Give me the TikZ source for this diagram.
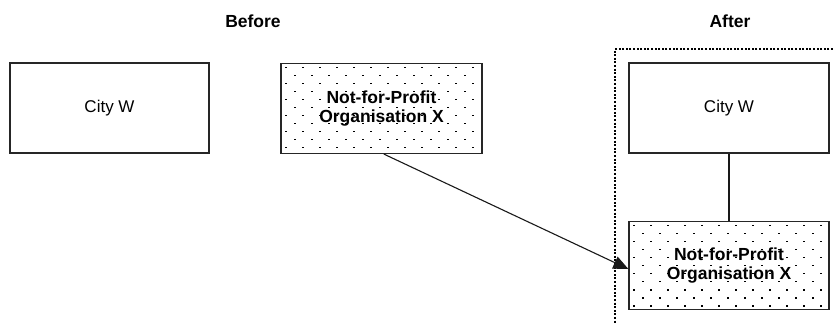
\documentclass[tikz,border=0pt]{standalone}
\usepackage{fontspec}
\setmainfont{Liberation Sans}
\usetikzlibrary{arrows.meta,calc,backgrounds}
\tikzset{
  box/.style={draw=black!85, line width=1.2pt, minimum width=200pt, minimum height=90pt, inner sep=0pt, align=center, font=\fontsize{17}{19}\selectfont},
  nfp/.style={box, font=\fontsize{17.5}{19.5}\selectfont\bfseries},
  head/.style={font=\fontsize{17.5}{19}\selectfont\bfseries, inner sep=0pt},
  frame/.style={line width=2.2pt, dash pattern=on 2pt off 1.6pt},
  link/.style={line width=1.1pt, draw=black!90},
}
\newcommand\mydotpattern[1]{%
  \begin{scope}
    \clip (#1.north west) rectangle (#1.south east);
    \path (#1.north west) coordinate (dnw);
    \foreach \ii in {0,...,11} {
      \foreach \jj in {0,...,12} {
        \pgfmathsetmacro\dpx{\jj*17+mod(\ii,2)*8.5+5}
        \pgfmathsetmacro\dpy{\ii*8+4}
        \fill ([shift={(\dpx,\dpy)}]dnw) rectangle ++(1.6,1.6);
      }
    }
  \end{scope}}
\begin{document}
\begin{tikzpicture}[x=1pt,y=-1pt]
  \useasboundingbox (0,0) rectangle (833,323);
  \node[head] (before) at (253,21) {Before};
  \node[head] (after) at (730,21) {After};
  \node[box, minimum width=199pt] (cityL) at (109.5,108) {City W};
  \node[nfp, minimum width=201pt] (nfpL) at (381.5,108.5) {Not-for-Profit\\Organisation X};
  \node[box] (cityR) at (729,108) {City W};
  \node[nfp, minimum height=88pt] (nfpR) at (729,265.5) {Not-for-Profit\\Organisation X};
  \coordinate (fr1) at (833,49);
  \coordinate (fr2) at (615,49);
  \coordinate (fr3) at (615,323);
  \draw[frame] (fr1) -- (fr2) -- (fr3);
  \begin{pgfonlayer}{background}
    \mydotpattern{nfpL}
    \mydotpattern{nfpR}
  \end{pgfonlayer}
  \draw[link] (cityR.south) -- (nfpR.north);
  \draw[link, -{Triangle[length=15pt,width=13pt]}] (nfpL.-87) -- (nfpR.182);
\end{tikzpicture}
\end{document}
